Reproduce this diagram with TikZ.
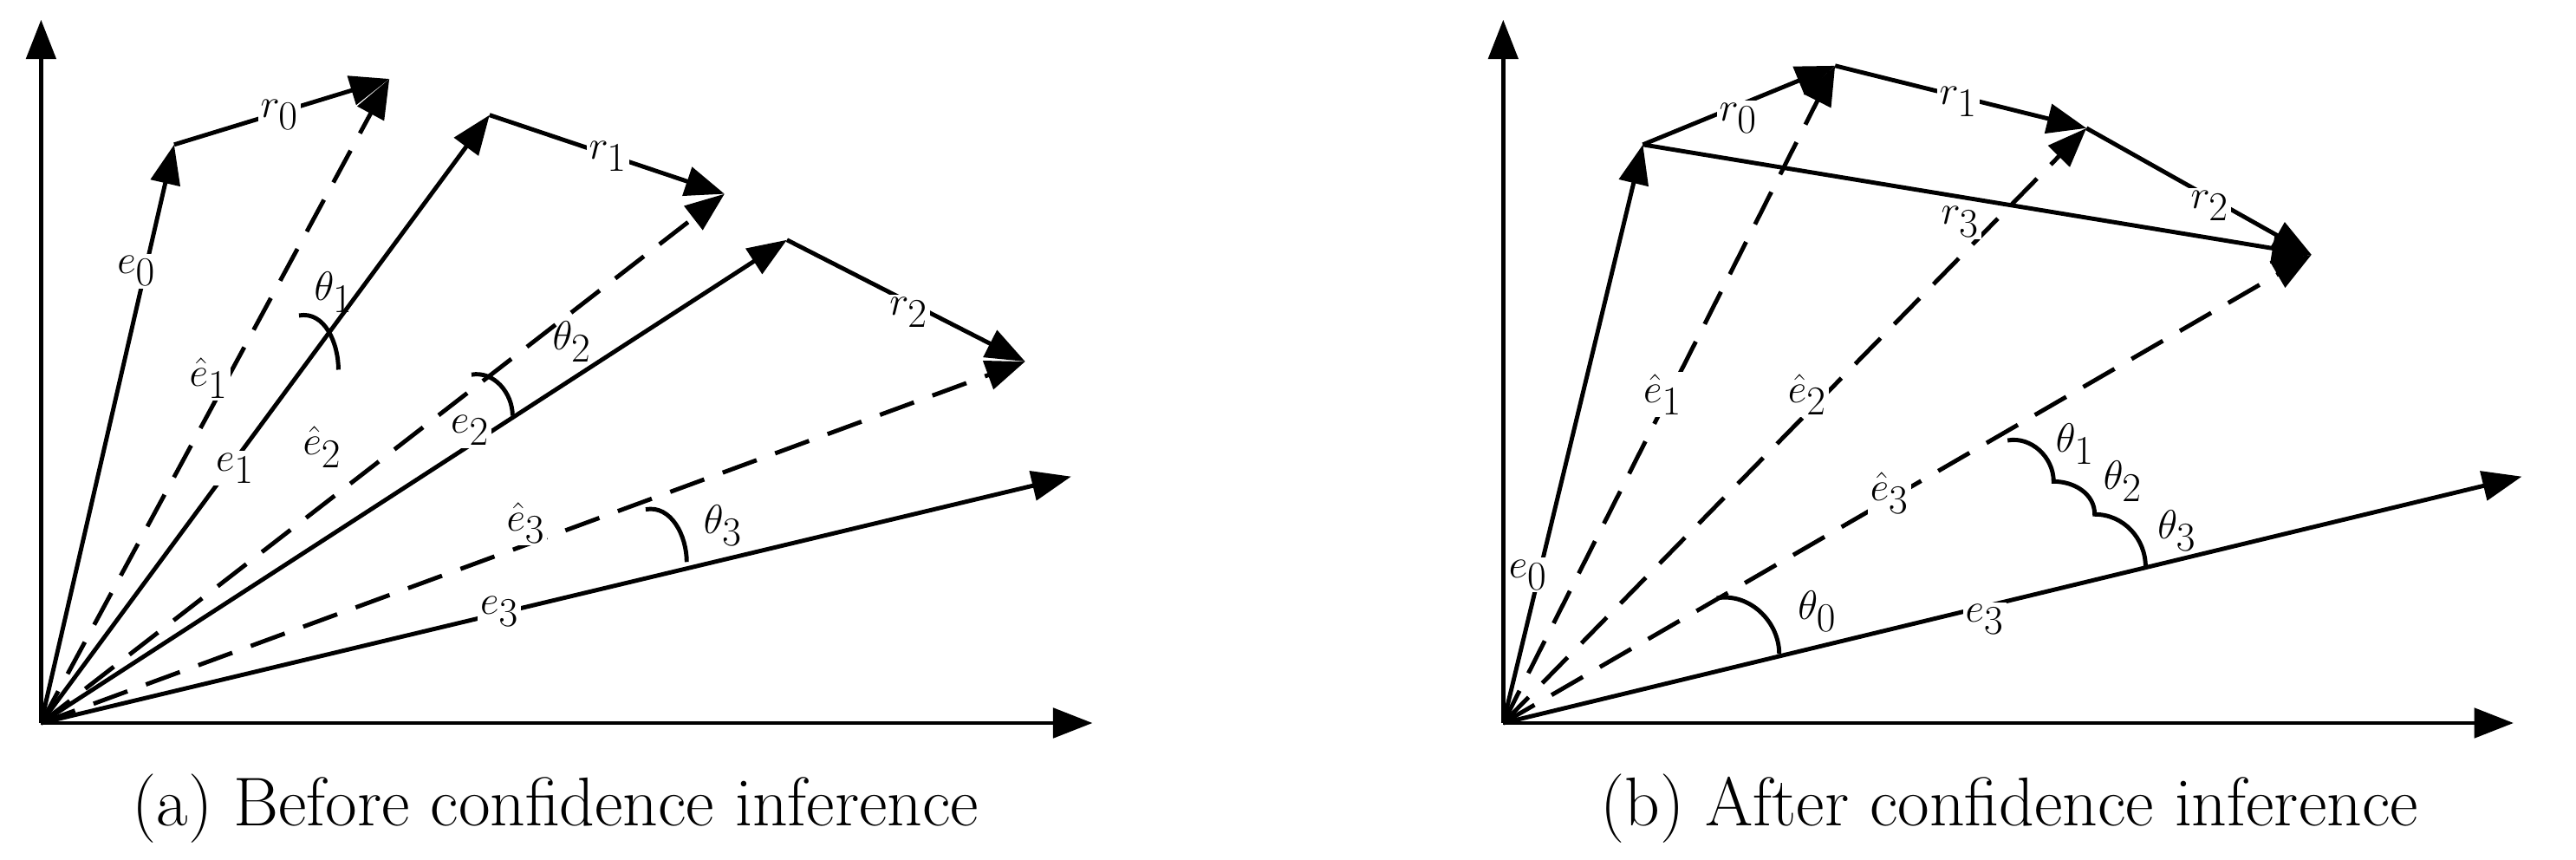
\documentclass[tikz,border=0pt]{standalone}
\usetikzlibrary{arrows.meta}
\begin{document}
\begin{tikzpicture}[x=1pt,y=-1pt,
  vec/.style={line width=2.6pt,-{Triangle[length=24pt,width=18pt]}},
  dvec/.style={vec,dash pattern=on 22pt off 12pt},
  seg/.style={line width=2.6pt},
  lab/.style={fill=white,inner sep=1.5pt,font=\fontsize{40}{40}\selectfont},
  tlab/.style={inner sep=1pt,font=\fontsize{40}{40}\selectfont},
  captxt/.style={font=\fontsize{42}{50}\selectfont}]
\useasboundingbox (0,0) rectangle (1568,523);
% ---------- panel (a)
\coordinate (Oa) at (25,440);
\coordinate (ya) at (25,12); \coordinate (xa) at (665,440);
\coordinate (e0a) at (106,88); \coordinate (h1a) at (237,48);
\coordinate (e1a) at (298,70); \coordinate (h2a) at (441,118);
\coordinate (e2a) at (479,146); \coordinate (h3a) at (624,220);
\coordinate (e3a) at (652,290);
\draw[vec] (Oa) -- (ya);
\draw[vec] (Oa) -- (xa);
\draw[vec] (Oa) -- (e0a);
\draw[dvec] (Oa) -- (h1a);
\draw[vec] (Oa) -- (e1a);
\draw[dvec] (Oa) -- (h2a);
\draw[vec] (Oa) -- (e2a);
\draw[dvec] (Oa) -- (h3a);
\draw[vec] (Oa) -- (e3a);
\draw[vec] (e0a) -- (h1a);
\draw[vec] (e1a) -- (h2a);
\draw[vec] (e2a) -- (h3a);
\coordinate (t1s) at (182,192); \coordinate (t1e) at (206,225);
\draw[seg] (t1s) to[out=10,in=90] (t1e);
\coordinate (t2s) at (287,228); \coordinate (t2e) at (312,253);
\draw[seg] (t2s) to[out=10,in=90] (t2e);
\coordinate (t3s) at (393,310); \coordinate (t3e) at (418,342);
\draw[seg] (t3s) to[out=10,in=90] (t3e);
\node[lab] (le0a) at (83,165) {$e_0$};
\node[lab] (lr0a) at (170,70) {$r_0$};
\node[lab] (lh1a) at (127,230) {$\hat e_1$};
\node[lab] (le1a) at (143,285) {$e_1$};
\node[tlab] (lt1a) at (203,178) {$\theta_1$};
\node[lab] (lr1a) at (370,95) {$r_1$};
\node[lab] (lh2a) at (196,272) {$\hat e_2$};
\node[lab] (le2a) at (286,262) {$e_2$};
\node[tlab] (lt2a) at (348,208) {$\theta_2$};
\node[lab] (lr2a) at (553,190) {$r_2$};
\node[lab] (lh3a) at (320,318) {$\hat e_3$};
\node[tlab] (lt3a) at (440,320) {$\theta_3$};
\node[lab] (le3a) at (304,372) {$e_3$};
\node[captxt] (capa) at (338,492) {(a) Before confidence inference};
% ---------- panel (b)
\coordinate (Ob) at (915,440);
\coordinate (yb) at (915,12); \coordinate (xb) at (1530,440);
\coordinate (e0b) at (1000,88); \coordinate (h1b) at (1117,40);
\coordinate (h2b) at (1270,78); \coordinate (h3b) at (1407,155);
\coordinate (e3b) at (1535,290);
\draw[vec] (Ob) -- (yb);
\draw[vec] (Ob) -- (xb);
\draw[vec] (Ob) -- (e0b);
\draw[dvec] (Ob) -- (h1b);
\draw[dvec] (Ob) -- (h2b);
\draw[dvec] (Ob) -- (h3b);
\draw[vec] (Ob) -- (e3b);
\draw[vec] (e0b) -- (h1b);
\draw[vec] (h1b) -- (h2b);
\draw[vec] (h2b) -- (h3b);
\draw[vec] (e0b) -- (h3b);
\coordinate (u0s) at (1045,364); \coordinate (u0e) at (1083,398);
\draw[seg] (u0s) to[out=10,in=90] (u0e);
\coordinate (u1s) at (1222,268); \coordinate (u1e) at (1250,293);
\coordinate (u2e) at (1275,313); \coordinate (u3e) at (1306,345);
\draw[seg] (u1s) to[out=10,in=90] (u1e) to[out=0,in=90] (u2e) to[out=0,in=90] (u3e);
\node[lab] (le0b) at (930,350) {$e_0$};
\node[lab] (lr0b) at (1058,72) {$r_0$};
\node[lab] (lr1b) at (1192,62) {$r_1$};
\node[lab] (lr2b) at (1345,125) {$r_2$};
\node[lab] (lr3b) at (1193,135) {$r_3$};
\node[lab] (lh1b) at (1012,240) {$\hat e_1$};
\node[lab] (lh2b) at (1100,240) {$\hat e_2$};
\node[lab] (lh3b) at (1150,300) {$\hat e_3$};
\node[tlab] (lt0b) at (1106,372) {$\theta_0$};
\node[lab] (le3b) at (1208,377) {$e_3$};
\node[tlab] (lt1b) at (1263,270) {$\theta_1$};
\node[tlab] (lt2b) at (1292,293) {$\theta_2$};
\node[tlab] (lt3b) at (1325,323) {$\theta_3$};
\node[captxt] (capb) at (1223,492) {(b) After confidence inference};
\end{tikzpicture}
\end{document}
